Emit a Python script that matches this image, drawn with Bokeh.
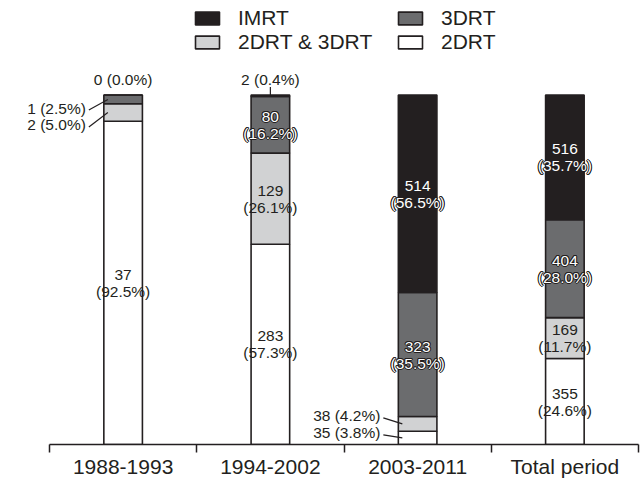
from bokeh.plotting import figure
from bokeh.models import ColumnDataSource, Range1d, FixedTicker, Legend, LegendItem
from bokeh.core.properties import value
from bokeh.embed import file_html
from bokeh.resources import INLINE

# ---- data ----
periods = ["1988-1993", "1994-2002", "2003-2011", "Total period"]
n_2drt = [37, 283, 35, 355]
n_mixed = [2, 129, 38, 169]
n_3drt = [1, 80, 323, 404]
n_imrt = [0, 2, 514, 516]
p_2drt = [92.5, 57.3, 3.8, 24.6]
p_mixed = [5.0, 26.1, 4.2, 11.7]
p_3drt = [2.5, 16.2, 35.5, 28.0]
p_imrt = [0.0, 0.4, 56.5, 35.7]

# ---- style ----
INK = "#231f20"
FONT = "Liberation Sans"
keys = ["d2", "mx", "d3", "im"]
colors = ["#ffffff", "#d1d2d3", "#6b6c6e", "#231f20"]
names = {"d2": "2DRT", "mx": "2DRT & 3DRT", "d3": "3DRT", "im": "IMRT"}
counts = {"d2": n_2drt, "mx": n_mixed, "d3": n_3drt, "im": n_imrt}
pcts = {"d2": p_2drt, "mx": p_mixed, "d3": p_3drt, "im": p_imrt}

xs = [i + 0.5 for i in range(len(periods))]
BAR_W = 0.262
PXX = 147.25  # pixels per category unit (layout helper)
PX = 3.51     # pixels per percent unit (layout helper)

src = ColumnDataSource(dict(x=xs, d2=p_2drt, mx=p_mixed, d3=p_3drt, im=p_imrt))

p = figure(width=640, height=480, output_backend="svg", toolbar_location=None,
           x_range=Range1d(-49 / PXX, 4), y_range=Range1d(0, 446 / PX),
           min_border_left=0, min_border_right=2, min_border_top=0, min_border_bottom=34,
           y_axis_location=None)
p.grid.visible = False
p.outline_line_color = None
p.background_fill_color = "white"

rs = p.vbar_stack(keys, x="x", width=BAR_W, source=src, fill_color=colors,
                  line_color=INK, line_width=1.6)
rmap = dict(zip(keys, rs))

# ---- axis ----
ax = p.xaxis[0]
ax.bounds = (0, 4)
ax.ticker = FixedTicker(ticks=xs, minor_ticks=[0, 1, 2, 3, 4])
ax.major_label_overrides = {x: lab for x, lab in zip(xs, periods)}
ax.major_tick_line_color = None
ax.major_tick_out = 0
ax.major_tick_in = 0
ax.minor_tick_line_color = INK
ax.minor_tick_line_width = 1.5
ax.minor_tick_out = 8
ax.minor_tick_in = 0
ax.axis_line_color = INK
ax.axis_line_width = 1.5
ax.major_label_text_font = FONT
ax.major_label_text_font_size = "21px"
ax.major_label_text_color = INK
ax.major_label_standoff = 2

# ---- labels ----
inside_plain = [("d2", 0), ("d2", 1), ("mx", 1), ("mx", 3), ("d2", 3)]
inside_dark = [("d3", 1), ("d3", 2), ("im", 2), ("im", 3), ("d3", 3)]
left_callouts = [("d3", 0, 8.6), ("mx", 0, 12.5), ("mx", 2, -8.0), ("d2", 2, -5.0)]
top_callouts = [("im", 0, False), ("im", 1, True)]

def bottom_of(key, i):
    b = 0.0
    for k in keys:
        if k == key:
            return b
        b += pcts[k][i]
    return b

def mid_of(key, i):
    return bottom_of(key, i) + pcts[key][i] / 2.0

def lab2(key, i):
    return f"{counts[key][i]}\n({pcts[key][i]:.1f}%)"

def lab1(key, i):
    return f"{counts[key][i]} ({pcts[key][i]:.1f}%)"

FS = "15.5px"
common = dict(text_font=value(FONT), text_font_size=FS, text_align="center",
              text_baseline="middle", text_line_height=1.0)

s_in = ColumnDataSource(dict(x=[xs[i] for k, i in inside_plain],
                             y=[mid_of(k, i) for k, i in inside_plain],
                             t=[lab2(k, i) for k, i in inside_plain]))
p.text("x", "y", text="t", source=s_in, text_color=INK, **common)

s_dk = ColumnDataSource(dict(x=[xs[i] for k, i in inside_dark],
                             y=[mid_of(k, i) for k, i in inside_dark],
                             t=[lab2(k, i) for k, i in inside_dark]))
# outlined white text: dark halo passes, then white fill on top
for ox, oy in [(-1, 0), (1, 0), (0, -1), (0, 1), (-0.7, -0.7), (0.7, 0.7), (-0.7, 0.7), (0.7, -0.7)]:
    p.text("x", "y", text="t", source=s_dk, text_color=INK,
           x_offset=ox, y_offset=oy, **common)
p.text("x", "y", text="t", source=s_dk, text_color="white", **common)

# left callouts
gap_text = 18 / PXX
lx0, ly0, lx1, ly1, tx, ty, tt = [], [], [], [], [], [], []
for k, i, dy in left_callouts:
    left = xs[i] - BAR_W / 2
    m = mid_of(k, i)
    yt = m - dy / PX
    tx.append(left - gap_text)
    ty.append(yt)
    tt.append(lab1(k, i))
    lx0.append(left - gap_text + 3 / PXX)
    ly0.append(yt - 2 / PX)
    lx1.append(left + 4 / PXX)
    ly1.append(m)
p.text(tx, ty, text=tt, text_color=INK, text_font=value(FONT), text_font_size=FS,
       text_align="right", text_baseline="middle")
p.segment(lx0, ly0, lx1, ly1, line_color=INK, line_width=1.2)

# top callouts
ttx, tty, ttt, vx, vy0, vy1 = [], [], [], [], [], []
for k, i, has_line in top_callouts:
    ttx.append(xs[i])
    tty.append(100 + 16 / PX)
    ttt.append(lab1(k, i))
    if has_line:
        vx.append(xs[i])
        vy0.append(100)
        vy1.append(100 + 8 / PX)
p.text(ttx, tty, text=ttt, text_color=INK, text_font=value(FONT), text_font_size=FS,
       text_align="center", text_baseline="middle")
p.segment(vx, vy0, vx, vy1, line_color=INK, line_width=1.2)

# ---- legend ----
legend = Legend(items=[LegendItem(label=names["im"], renderers=[rmap["im"]]),
                       LegendItem(label=names["mx"], renderers=[rmap["mx"]]),
                       LegendItem(label=names["d3"], renderers=[rmap["d3"]]),
                       LegendItem(label=names["d2"], renderers=[rmap["d2"]])],
                location=(192, 390), ncols=2,
                background_fill_alpha=0, border_line_color=None, padding=0, margin=0,
                spacing=0, glyph_width=30, glyph_height=16, label_standoff=16,
                label_width=157, label_height=16,
                label_text_font=FONT, label_text_font_size="21px", label_text_color=INK)
p.add_layout(legend)

open("out.html", "w").write(file_html(p, INLINE))
